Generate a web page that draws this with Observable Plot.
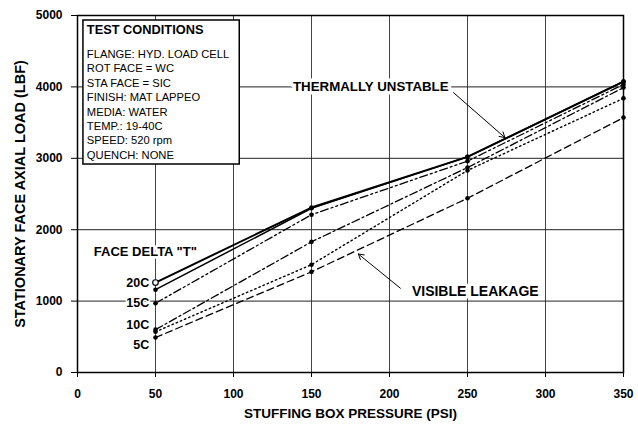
<!DOCTYPE html>
<html>
<head>
<meta charset="utf-8">
<script src="https://cdn.jsdelivr.net/npm/d3@7"></script>
<script src="https://cdn.jsdelivr.net/npm/@observablehq/plot@0.6"></script>
<style>
  body { margin: 0; background: #fff; }
  #chart { width: 638px; height: 424px; }
</style>
</head>
<body>
<div id="chart"></div>
<script>
// ---- data ----
const pressure = [50, 150, 250, 350];
const load20 = [1260, 2310, 3020, 4075];
const loadSolidB = [1160, 2300, 3020, 4075];
const load15 = [970, 2210, 2960, 4035];
const load10 = [600, 1830, 2870, 3990];
const loadDotted = [570, 1510, 2830, 3840];
const load5 = [490, 1410, 2440, 3570];

const seriesNames = ["20C", "20C-b", "15C", "10C", "dotted", "5C"];
const seriesValues = [load20, loadSolidB, load15, load10, loadDotted, load5];

const xTicks = [0, 50, 100, 150, 200, 250, 300, 350];
const yTicks = [0, 1000, 2000, 3000, 4000, 5000];

const deltaLabels = ["20C", "15C", "10C", "5C"];
const deltaLabelLoads = [1260, 980, 670, 390];

const conditionsTitle = "TEST CONDITIONS";
const conditionsLines = [
  "FLANGE: HYD. LOAD CELL",
  "ROT FACE = WC",
  "STA FACE = SIC",
  "FINISH: MAT LAPPEO",
  "MEDIA: WATER",
  "TEMP.: 19-40C",
  "SPEED: 520 rpm",
  "QUENCH: NONE"
];

// ---- build table ----
const rows = seriesNames.flatMap((s, i) =>
  pressure.map((p, j) => ({series: s, x: p, y: seriesValues[i][j]}))
);
const bySeries = s => rows.filter(d => d.series === s);

const styles = {
  "20C": {strokeWidth: 2, strokeDasharray: null},
  "20C-b": {strokeWidth: 1.5, strokeDasharray: null},
  "15C": {strokeWidth: 1.3, strokeDasharray: "8,3,2,3,2,3"},
  "10C": {strokeWidth: 1.3, strokeDasharray: "8,3,2,3"},
  "dotted": {strokeWidth: 1.4, strokeDasharray: "1.5,3"},
  "5C": {strokeWidth: 1.3, strokeDasharray: "7,4"}
};

const lineMarks = seriesNames.map(s =>
  Plot.line(bySeries(s), {x: "x", y: "y", stroke: "#000", ...styles[s]})
);
const dotMarks = seriesNames.map(s =>
  Plot.dot(bySeries(s).filter(d => !(s === "20C" && d.x === 50)), {x: "x", y: "y", r: 2.3, fill: "#000"})
);

const chart = Plot.plot({
  width: 638,
  height: 424,
  marginLeft: 77,
  marginRight: 15,
  marginTop: 15,
  marginBottom: 52,
  style: {fontFamily: "'Liberation Sans', Arial, sans-serif", fontWeight: "bold", fontSize: "12px", color: "#000", background: "#fff"},
  x: {domain: [0, 350]},
  y: {domain: [0, 5000]},
  marks: [
    Plot.gridX(xTicks.slice(1, -1), {stroke: "#444", strokeOpacity: 1, strokeWidth: 1}),
    Plot.gridY(yTicks.slice(1, -1), {stroke: "#222", strokeOpacity: 1, strokeWidth: 1}),
    Plot.frame({stroke: "#000", strokeWidth: 1.5}),
    Plot.axisY({ticks: yTicks, tickFormat: d => String(d), tickSize: 6, tickPadding: 9, fontSize: 12, fontWeight: "bold"}),
    Plot.axisY({ticks: [], tickSize: 0, fontSize: 14.5, fontWeight: "bold",
      label: "STATIONARY FACE AXIAL LOAD (LBF)", labelAnchor: "center", labelArrow: "none", labelOffset: 63}),
    Plot.axisX({ticks: xTicks, tickFormat: d => String(d), tickSize: 5, tickPadding: 12, fontSize: 12, fontWeight: "bold"}),
    Plot.axisX({ticks: [], tickSize: 0, fontSize: 13.5, fontWeight: "bold",
      label: "STUFFING BOX PRESSURE (PSI)", labelAnchor: "center", labelArrow: "none", labelOffset: 45}),
    ...lineMarks,
    ...dotMarks,
    Plot.dot([{x: pressure[0], y: load20[0]}], {x: "x", y: "y", r: 2.8, fill: "#fff", stroke: "#000", strokeWidth: 1.2}),
    // annotations
    Plot.text(["THERMALLY UNSTABLE"], {x: 188, y: 4000, fontSize: 13.3, fontWeight: "bold", stroke: "#fff", strokeWidth: 7, fill: "#000"}),
    Plot.arrow([{x1: 241, y1: 3920, x2: 274, y2: 3290}], {x1: "x1", y1: "y1", x2: "x2", y2: "y2", stroke: "#000", strokeWidth: 1, headLength: 9}),
    Plot.text(["VISIBLE LEAKAGE"], {x: 255, y: 1140, fontSize: 14, fontWeight: "bold", stroke: "#fff", strokeWidth: 6, fill: "#000"}),
    Plot.arrow([{x1: 207, y1: 1180, x2: 180, y2: 1660}], {x1: "x1", y1: "y1", x2: "x2", y2: "y2", stroke: "#000", strokeWidth: 1, headLength: 9}),
    Plot.text(["FACE DELTA \"T\""], {x: 43.5, y: 1690, fontSize: 13, fontWeight: "bold", stroke: "#fff", strokeWidth: 5, fill: "#000"}),
    Plot.text(deltaLabels, {x: 46, y: (d, i) => deltaLabelLoads[i], textAnchor: "end", fontSize: 12.5, fontWeight: "bold", stroke: "#fff", strokeWidth: 3, fill: "#000"}),
    // conditions box
    Plot.rect([{x1: 3.8, x2: 104, y1: 2913, y2: 4930}], {x1: "x1", x2: "x2", y1: "y1", y2: "y2", fill: "#fff", stroke: "#000", strokeWidth: 1.5}),
    Plot.text([conditionsTitle], {x: 6, y: 4800, textAnchor: "start", fontSize: 12.8, fontWeight: "bold", fill: "#000"}),
    Plot.text([conditionsLines.join("\n")], {x: 6, y: 4545, textAnchor: "start", lineAnchor: "top", lineHeight: 1.28, fontSize: 11.2, fontWeight: "normal", fill: "#000"})
  ]
});
document.getElementById("chart").appendChild(chart);
</script>
</body>
</html>
